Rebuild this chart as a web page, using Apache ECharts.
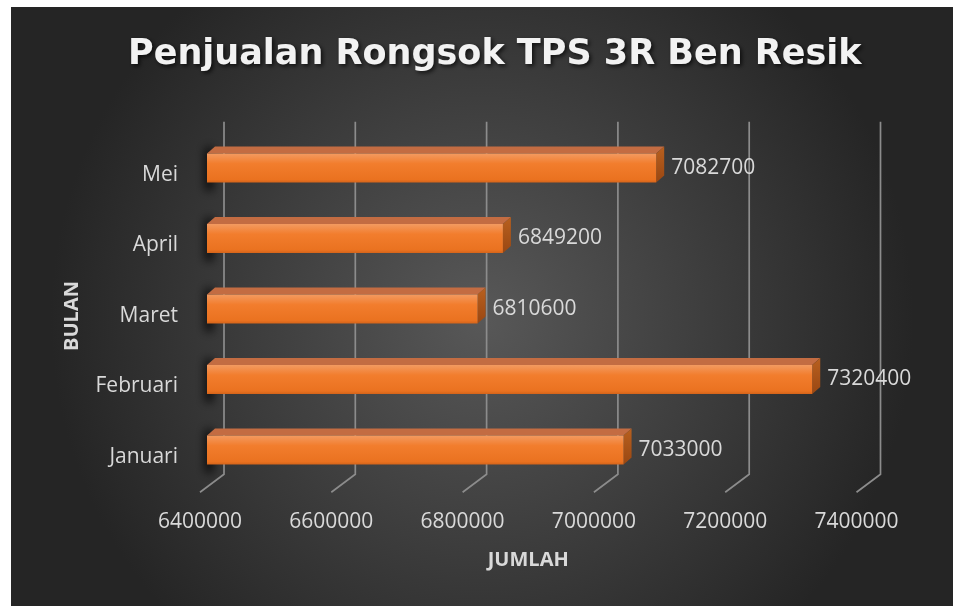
<!DOCTYPE html>
<html>
<head>
<meta charset="utf-8">
<script src="https://cdn.jsdelivr.net/npm/echarts@6/dist/echarts.min.js"></script>
<style>
  html, body { margin: 0; padding: 0; background: #ffffff; }
  #chart { width: 953px; height: 606px; }
</style>
</head>
<body>
<div id="chart"></div>
<script>
// data
const bulan = ['Januari', 'Februari', 'Maret', 'April', 'Mei']
const jumlah = [7033000, 7320400, 6810600, 6849200, 7082700]
const xTicks = [6400000, 6600000, 6800000, 7000000, 7200000, 7400000]

const chart = echarts.init(document.getElementById('chart'))

// depth of the 3D box (back wall offset) and of the bars
const WALL_DX = 24, WALL_DY = 18
const BAR_FRONT_DX = 8, BAR_FRONT_DY = 7
const BAR_DX = 8, BAR_DY = 7
const FAR = 2000 // shadow-only trick: shape drawn off screen, shadow shifted back

const labelFont = { fontFamily: 'Open Sans', fontSize: 21, color: '#d9d9d9' }

function renderWall(params, api) {
    const cs = params.coordSys
    const x = api.coord([api.value(0), 0])[0]
    const bottom = cs.y + cs.height
    const top = cs.y
    return {
        type: 'polyline',
        shape: { points: [[x + WALL_DX, top - WALL_DY], [x + WALL_DX, bottom - WALL_DY], [x, bottom]] },
        style: { stroke: '#8c8c8c', lineWidth: 1.7, fill: null }
    }
}

function renderBar(params, api) {
    const idx = api.value(1)
    const start = api.coord([xTicks[0], idx])
    const end = api.coord([api.value(0), idx])
    const band = api.size([0, 1])[1]
    const h = band * 0.41
    const x0 = start[0] + BAR_FRONT_DX - 1
    const x1 = end[0] + BAR_FRONT_DX
    const cy = start[1] - BAR_FRONT_DY
    const top = cy - h / 2
    const bot = cy + h / 2
    return {
        type: 'group',
        children: [
            { // blurred shadow of the bar end on the back wall
                type: 'rect',
                shape: { x: x0 - 2 - FAR, y: top - 6, width: 8, height: h + 14 },
                style: { fill: '#000', shadowBlur: 10, shadowColor: 'rgba(0,0,0,0.85)', shadowOffsetX: FAR }
            },
            { // top face
                type: 'polygon',
                shape: { points: [[x0, top], [x1, top], [x1 + BAR_DX, top - BAR_DY], [x0 + BAR_DX, top - BAR_DY]] },
                style: { fill: '#c36c42' }
            },
            { // side face
                type: 'polygon',
                shape: { points: [[x1, top], [x1 + BAR_DX, top - BAR_DY], [x1 + BAR_DX, bot - BAR_DY], [x1, bot]] },
                style: {
                    fill: new echarts.graphic.LinearGradient(0, 0, 0, 1, [
                        { offset: 0, color: '#b8601f' },
                        { offset: 1, color: '#9a4712' }
                    ])
                }
            },
            { // front face
                type: 'rect',
                shape: { x: x0, y: top, width: x1 - x0, height: h },
                style: {
                    fill: new echarts.graphic.LinearGradient(0, 0, 0, 1, [
                        { offset: 0, color: '#f39a60' },
                        { offset: 0.35, color: '#f27d2d' },
                        { offset: 0.9, color: '#ea7220' },
                        { offset: 1, color: '#d5641a' }
                    ])
                }
            },
            { // value label
                type: 'text',
                x: x1 + BAR_DX + 7,
                y: cy,
                style: {
                    text: String(api.value(0)),
                    align: 'left',
                    verticalAlign: 'middle',
                    fill: '#d9d9d9',
                    font: '21px "Open Sans"'
                }
            }
        ]
    }
}

const option = {
    backgroundColor: '#ffffff',
    animation: false,
    graphic: [{
        type: 'rect',
        z: -10,
        silent: true,
        shape: { x: 11, y: 7, width: 942, height: 599 },
        style: {
            fill: new echarts.graphic.RadialGradient(0.5, 0.52, 0.72, [
                { offset: 0, color: '#585858' },
                { offset: 1, color: '#252525' }
            ])
        }
    }],
    title: {
        text: 'Penjualan Rongsok TPS 3R Ben Resik',
        left: 123,
        top: 32,
        textStyle: {
            fontFamily: 'DejaVu Sans',
            fontWeight: 'bold',
            fontSize: 35,
            color: '#f2f2f2',
            textShadowColor: 'rgba(0,0,0,0.7)',
            textShadowBlur: 4,
            textShadowOffsetX: 2,
            textShadowOffsetY: 2
        }
    },
    grid: { left: 200, top: 139.75, width: 656.5, height: 352.5 },
    xAxis: {
        type: 'value',
        min: 6400000,
        max: 7400000,
        interval: 200000,
        name: 'JUMLAH',
        nameLocation: 'middle',
        nameGap: 58,
        nameTextStyle: { fontFamily: 'Open Sans', fontWeight: 'bold', fontSize: 20, color: '#d9d9d9' },
        axisLine: { show: false },
        axisTick: { show: false },
        splitLine: { show: false },
        axisLabel: Object.assign({ margin: 19, formatter: v => String(v) }, labelFont)
    },
    yAxis: {
        type: 'category',
        data: bulan,
        name: 'BULAN',
        nameLocation: 'middle',
        nameGap: 118,
        nameRotate: 90,
        nameTextStyle: { fontFamily: 'Open Sans', fontWeight: 'bold', fontSize: 20, color: '#d9d9d9' },
        axisLine: { show: false },
        axisTick: { show: false },
        splitLine: { show: false },
        axisLabel: Object.assign({ margin: 22 }, labelFont)
    },
    series: [
        {
            type: 'custom',
            name: 'wall',
            z: 1,
            clip: false,
            silent: true,
            renderItem: renderWall,
            encode: { x: 0, y: 1 },
            data: xTicks.map(t => [t, 0])
        },
        {
            type: 'custom',
            name: 'Jumlah',
            z: 2,
            clip: false,
            renderItem: renderBar,
            encode: { x: 0, y: 1 },
            data: jumlah.map((v, i) => [v, i])
        }
    ]
}

chart.setOption(option)
</script>
</body>
</html>
